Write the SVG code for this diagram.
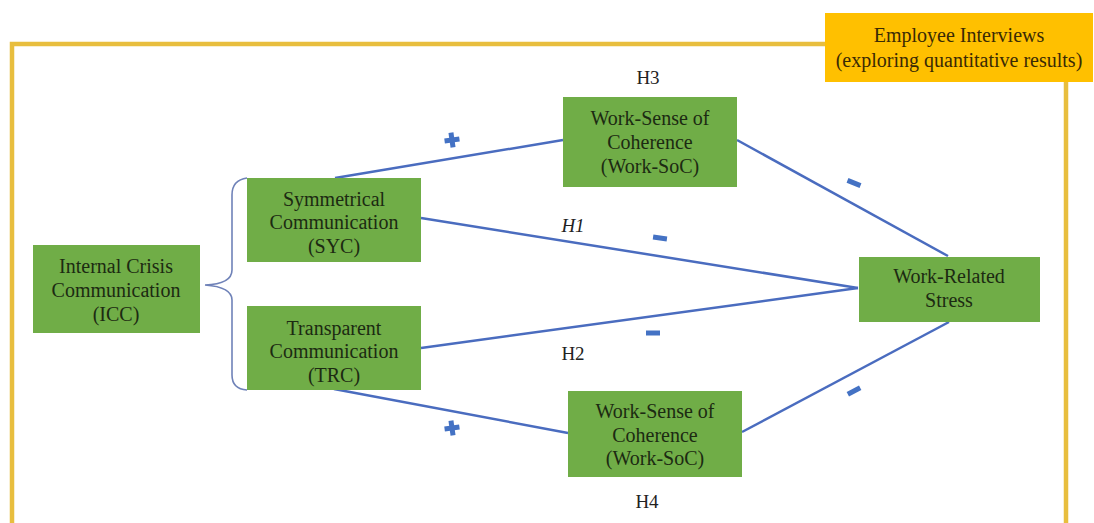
<svg xmlns="http://www.w3.org/2000/svg" width="1094" height="523" viewBox="0 0 1094 523">
<style>
.box{fill:#70AD47;}
.t{font-family:'Liberation Serif','DejaVu Serif',serif;font-size:20px;fill:#1c2a12;text-anchor:middle;}
.lbl{font-family:'Liberation Serif','DejaVu Serif',serif;font-size:19px;fill:#222;text-anchor:middle;}
.ln{stroke:#4A6CBF;stroke-width:2.5;fill:none;}
.sign{fill:#4472C4;}
</style>
<rect width="1094" height="523" fill="#ffffff"/>
<g id="frame">
<path d="M826 44 H12 V523" fill="none" stroke="#E8BE3E" stroke-width="4.5"/>
<path d="M1066 82 V523" fill="none" stroke="#E8BE3E" stroke-width="4.5"/>
</g>
<g id="interviews" font-family="Liberation Serif, DejaVu Serif, serif">
<rect x="825" y="13" width="268" height="69" fill="#FFC000"/>
<text class="t" x="959" y="42" style="fill:#3a2a05">Employee Interviews</text>
<text class="t" x="959" y="67" style="fill:#3a2a05">(exploring quantitative results)</text>
</g>
<g id="connectors">
<path class="ln" d="M335 178 L563 140"/>
<path class="ln" d="M737 140 L948 256"/>
<path class="ln" d="M421 218 L858 288"/>
<path class="ln" d="M421 348 L858 288"/>
<path class="ln" d="M334 389 L568 433"/>
<path class="ln" d="M742 432 L949 322"/>
<path d="M247 178 Q232 180 232 195 V270 Q232 284 205 285 Q232 287 232 300 V375 Q232 389 247 390" fill="none" stroke="#6F82B8" stroke-width="1.6"/>
</g>
<g id="signs">
<rect class="sign" x="449.5" y="132.5" width="5" height="15" transform="rotate(-8 452 140)"/>
<rect class="sign" x="444.5" y="137.5" width="15" height="5" transform="rotate(-8 452 140)"/>
<rect class="sign" x="449.5" y="420.5" width="5" height="15" transform="rotate(-8 452 428)"/>
<rect class="sign" x="444.5" y="425.5" width="15" height="5" transform="rotate(-8 452 428)"/>
<rect class="sign" x="653" y="235.5" width="14" height="5" transform="rotate(8 660 238)"/>
<rect class="sign" x="646" y="330.5" width="14" height="5"/>
<rect class="sign" x="847" y="180.5" width="14" height="5" transform="rotate(22 854 183)"/>
<rect class="sign" x="847" y="388.5" width="14" height="5" transform="rotate(-28 854 391)"/>
</g>
<g id="labels">
<text class="lbl" x="648" y="84">H3</text>
<text class="lbl" x="573" y="232" font-style="italic">H1</text>
<text class="lbl" x="573" y="360">H2</text>
<text class="lbl" x="647" y="508">H4</text>
</g>
<g id="icc">
<rect class="box" x="33" y="245" width="167" height="88"/>
<text class="t" x="116" y="273">Internal Crisis</text>
<text class="t" x="116" y="297">Communication</text>
<text class="t" x="116" y="321">(ICC)</text>
</g>
<g id="syc">
<rect class="box" x="247" y="178" width="174" height="84"/>
<text class="t" x="334" y="206">Symmetrical</text>
<text class="t" x="334" y="229">Communication</text>
<text class="t" x="334" y="253">(SYC)</text>
</g>
<g id="trc">
<rect class="box" x="247" y="306" width="174" height="84"/>
<text class="t" x="334" y="335">Transparent</text>
<text class="t" x="334" y="358">Communication</text>
<text class="t" x="334" y="382">(TRC)</text>
</g>
<g id="soc-top">
<rect class="box" x="563" y="97" width="174" height="90"/>
<text class="t" x="650" y="125">Work-Sense of</text>
<text class="t" x="650" y="149">Coherence</text>
<text class="t" x="650" y="173">(Work-SoC)</text>
</g>
<g id="soc-bottom">
<rect class="box" x="568" y="391" width="174" height="86"/>
<text class="t" x="655" y="418">Work-Sense of</text>
<text class="t" x="655" y="442">Coherence</text>
<text class="t" x="655" y="465">(Work-SoC)</text>
</g>
<g id="stress">
<rect class="box" x="859" y="257" width="181" height="65"/>
<text class="t" x="949" y="283">Work-Related</text>
<text class="t" x="949" y="307">Stress</text>
</g>
</svg>
